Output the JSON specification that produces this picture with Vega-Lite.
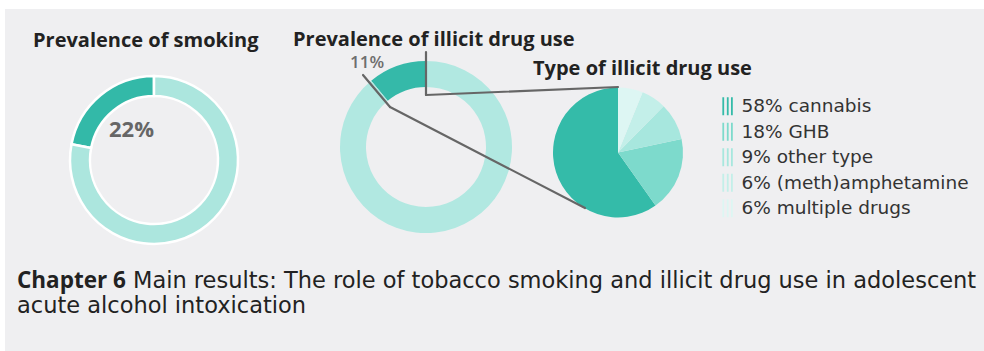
{
  "$schema": "https://vega.github.io/schema/vega-lite/v6.json",
  "width": 984,
  "height": 351,
  "autosize": {"type": "fit", "contains": "padding"},
  "padding": {"left": 5, "top": 9, "right": 0, "bottom": 0},
  "background": "#ffffff",
  "config": {
    "view": {"fill": "#efeff1", "stroke": null},
    "font": "Open Sans",
    "text": {"font": "Open Sans", "align": "left", "baseline": "alphabetic"}
  },
  "data": {"values": [{"note": "annotation"}]},
  "datasets": {
    "smoking": [
      {"status": "smoker", "share": 22, "rank": 2},
      {"status": "non-smoker", "share": 78, "rank": 1}
    ],
    "drugs": [
      {"status": "user", "share": 11, "rank": 2},
      {"status": "non-user", "share": 89, "rank": 1}
    ],
    "types": [
      {"type": "58% cannabis", "share": 58, "rank": 5},
      {"type": "18% GHB", "share": 18, "rank": 4},
      {"type": "9% other type", "share": 9, "rank": 3},
      {"type": "6% (meth)amphetamine", "share": 6, "rank": 2},
      {"type": "6% multiple drugs", "share": 6, "rank": 1}
    ]
  },
  "layer": [
    {
      "data": {"name": "smoking"},
      "mark": {"type": "arc", "radius": 84, "innerRadius": 64, "stroke": "#ffffff", "strokeWidth": 2.5},
      "encoding": {
        "theta": {"field": "share", "type": "quantitative", "stack": true},
        "order": {"field": "rank", "type": "quantitative"},
        "color": {"field": "status", "type": "nominal", "scale": {"domain": ["smoker", "non-smoker"], "range": ["#33b9a8", "#ace6de"]}, "legend": null},
        "x": {"datum": 154, "type": "quantitative", "scale": {"domain": [5, 984], "nice": false, "zero": false}, "axis": null},
        "y": {"datum": 160, "type": "quantitative", "scale": {"domain": [9, 351], "nice": false, "zero": false, "reverse": true}, "axis": null}
      }
    },
    {
      "data": {"name": "drugs"},
      "mark": {"type": "arc", "radius": 86, "innerRadius": 60},
      "encoding": {
        "theta": {"field": "share", "type": "quantitative", "stack": true},
        "order": {"field": "rank", "type": "quantitative"},
        "color": {"field": "status", "type": "nominal", "scale": {"domain": ["user", "non-user"], "range": ["#35b9a9", "#b1e8e1"]}, "legend": null},
        "x": {"datum": 426, "type": "quantitative"},
        "y": {"datum": 147, "type": "quantitative"}
      }
    },
    {
      "data": {"name": "types"},
      "mark": {"type": "arc", "radius": 65},
      "encoding": {
        "theta": {"field": "share", "type": "quantitative", "stack": true},
        "order": {"field": "rank", "type": "quantitative"},
        "color": {
          "field": "type", "type": "nominal",
          "scale": {"domain": ["58% cannabis", "18% GHB", "9% other type", "6% (meth)amphetamine", "6% multiple drugs"], "range": ["#34bba9", "#7ddacc", "#a7e7de", "#c3efe9", "#ddf6f3"]},
          "legend": {
            "title": null, "orient": "none", "legendX": 713.5, "legendY": 88,
            "padding": 0, "offset": 0,
            "symbolType": "M-0.6,-1H-0.4V1H-0.6Z M-0.1,-1H0.1V1H-0.1Z M0.36,-1H0.56V1H0.36Z",
            "symbolSize": 324, "symbolStrokeWidth": 0, "symbolOpacity": 1,
            "labelFont": "DejaVu Sans", "labelFontSize": 18.5, "labelColor": "#333333", "labelOffset": 4.5,
            "rowPadding": 6.5, "labelLimit": 300
          }
        },
        "x": {"datum": 618, "type": "quantitative"},
        "y": {"datum": 152.5, "type": "quantitative"}
      }
    },
    {
      "mark": {"type": "rule", "color": "#666666", "strokeWidth": 2.2, "strokeCap": "round"},
      "encoding": {"x": {"datum": 426}, "y": {"datum": 52}, "x2": {"datum": 426}, "y2": {"datum": 95}}
    },
    {
      "mark": {"type": "rule", "color": "#666666", "strokeWidth": 2.2, "strokeCap": "round"},
      "encoding": {"x": {"datum": 426}, "y": {"datum": 95}, "x2": {"datum": 618}, "y2": {"datum": 87}}
    },
    {
      "mark": {"type": "rule", "color": "#666666", "strokeWidth": 2.2, "strokeCap": "round"},
      "encoding": {"x": {"datum": 363}, "y": {"datum": 75}, "x2": {"datum": 390}, "y2": {"datum": 107}}
    },
    {
      "mark": {"type": "rule", "color": "#666666", "strokeWidth": 2.2, "strokeCap": "round"},
      "encoding": {"x": {"datum": 390}, "y": {"datum": 107}, "x2": {"datum": 585}, "y2": {"datum": 208}}
    },
    {
      "data": {"values": [{"label": "Prevalence of smoking"}]},
      "mark": {"type": "text", "fontSize": 20, "fontWeight": "bold", "color": "#222222"},
      "encoding": {"text": {"field": "label"}, "x": {"datum": 33}, "y": {"datum": 47}}
    },
    {
      "data": {"values": [{"label": "Prevalence of illicit drug use"}]},
      "mark": {"type": "text", "fontSize": 20, "fontWeight": "bold", "color": "#222222"},
      "encoding": {"text": {"field": "label"}, "x": {"datum": 293}, "y": {"datum": 46}}
    },
    {
      "data": {"values": [{"label": "Type of illicit drug use"}]},
      "mark": {"type": "text", "fontSize": 20, "fontWeight": "bold", "color": "#222222"},
      "encoding": {"text": {"field": "label"}, "x": {"datum": 533}, "y": {"datum": 75}}
    },
    {
      "data": {"values": [{"label": "22%"}]},
      "mark": {"type": "text", "fontSize": 22, "fontWeight": "bold", "color": "#666666"},
      "encoding": {"text": {"field": "label"}, "x": {"datum": 109}, "y": {"datum": 137}}
    },
    {
      "data": {"values": [{"label": "11%"}]},
      "mark": {"type": "text", "fontSize": 17, "fontWeight": 600, "color": "#6e6e6e"},
      "encoding": {"text": {"field": "label"}, "x": {"datum": 350}, "y": {"datum": 68}}
    },
    {
      "data": {"values": [{"label": "Chapter 6"}]},
      "mark": {"type": "text", "fontSize": 22.5, "fontWeight": "bold", "color": "#222222"},
      "encoding": {"text": {"field": "label"}, "x": {"datum": 17}, "y": {"datum": 288}}
    },
    {
      "data": {"values": [{"label": "Main results: The role of tobacco smoking and illicit drug use in adolescent"}]},
      "mark": {"type": "text", "font": "DejaVu Sans", "fontSize": 22.5, "color": "#222222"},
      "encoding": {"text": {"field": "label"}, "x": {"datum": 133}, "y": {"datum": 288}}
    },
    {
      "data": {"values": [{"label": "acute alcohol intoxication"}]},
      "mark": {"type": "text", "font": "DejaVu Sans", "fontSize": 22.5, "color": "#222222"},
      "encoding": {"text": {"field": "label"}, "x": {"datum": 17}, "y": {"datum": 313}}
    }
  ],
  "resolve": {"scale": {"theta": "independent", "color": "independent"}}
}
